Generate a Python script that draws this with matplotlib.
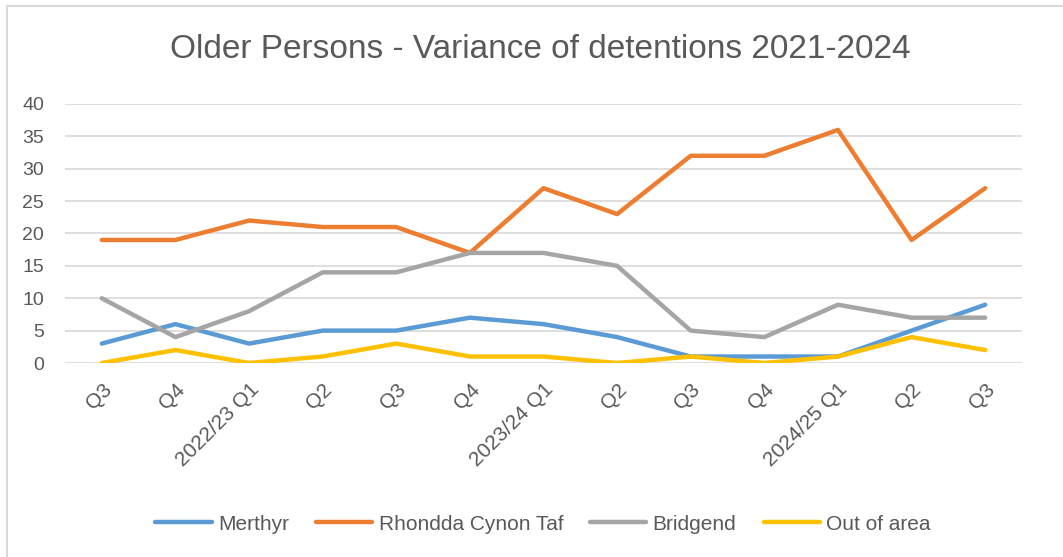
import matplotlib.pyplot as plt
from matplotlib.patches import Rectangle
import numpy as np

quarters = ['Q3', 'Q4', '2022/23 Q1', 'Q2', 'Q3', 'Q4', '2023/24 Q1',
            'Q2', 'Q3', 'Q4', '2024/25 Q1', 'Q2', 'Q3']
merthyr = [3, 6, 3, 5, 5, 7, 6, 4, 1, 1, 1, 5, 9]
rct = [19, 19, 22, 21, 21, 17, 27, 23, 32, 32, 36, 19, 27]
bridgend = [10, 4, 8, 14, 14, 17, 17, 15, 5, 4, 9, 7, 7]
out_of_area = [0, 2, 0, 1, 3, 1, 1, 0, 1, 0, 1, 4, 2]

series = [('Merthyr', merthyr, '#5B9BD5'),
          ('Rhondda Cynon Taf', rct, '#ED7D31'),
          ('Bridgend', bridgend, '#A5A5A5'),
          ('Out of area', out_of_area, '#FFC000')]

plt.rcParams['font.family'] = ['Liberation Sans', 'DejaVu Sans']
txt = '#595959'

W, H = 1063, 557
fig = plt.figure(figsize=(W / 100, H / 100), dpi=100)
ax = fig.add_axes([65 / W, 1 - 363 / H, (1022 - 65) / W, (363 - 104) / H])

x = np.arange(len(quarters))
for name, vals, col in series:
    ax.plot(x, vals, color=col, lw=3.2, label=name, solid_capstyle='round',
            solid_joinstyle='round')

ax.set_xlim(-0.5, len(quarters) - 0.5)
ax.set_ylim(0, 40)
ax.set_yticks(range(0, 41, 5))
ax.grid(axis='y', color='#d9d9d9', lw=1.2)
ax.set_axisbelow(True)
for s in ax.spines.values():
    s.set_visible(False)
ax.tick_params(length=0, colors=txt, labelsize=14)
ax.tick_params(axis='y', pad=15)
ax.set_xticks(x)
ax.set_xticklabels(quarters, rotation=45, ha='right', rotation_mode='anchor',
                   fontsize=15)
ax.tick_params(axis='x', pad=12)

fig.text(540 / W, 1 - 50 / H, 'Older Persons - Variance of detentions 2021-2024',
         ha='center', va='center', fontsize=24, color=txt)

leg = fig.legend(loc='center', bbox_to_anchor=(543 / W, 1 - 524 / H), ncol=4,
                 frameon=False, fontsize=15, handlelength=2.7, handletextpad=0.3,
                 columnspacing=1.3)
for t in leg.get_texts():
    t.set_color(txt)

fig.patches.append(Rectangle((7 / W, -0.1), 1.2, 1 - 6 / H + 0.1,
                             transform=fig.transFigure, fill=False,
                             edgecolor='#d9d9d9', lw=1.5))

fig.savefig('out.png', dpi=100)
